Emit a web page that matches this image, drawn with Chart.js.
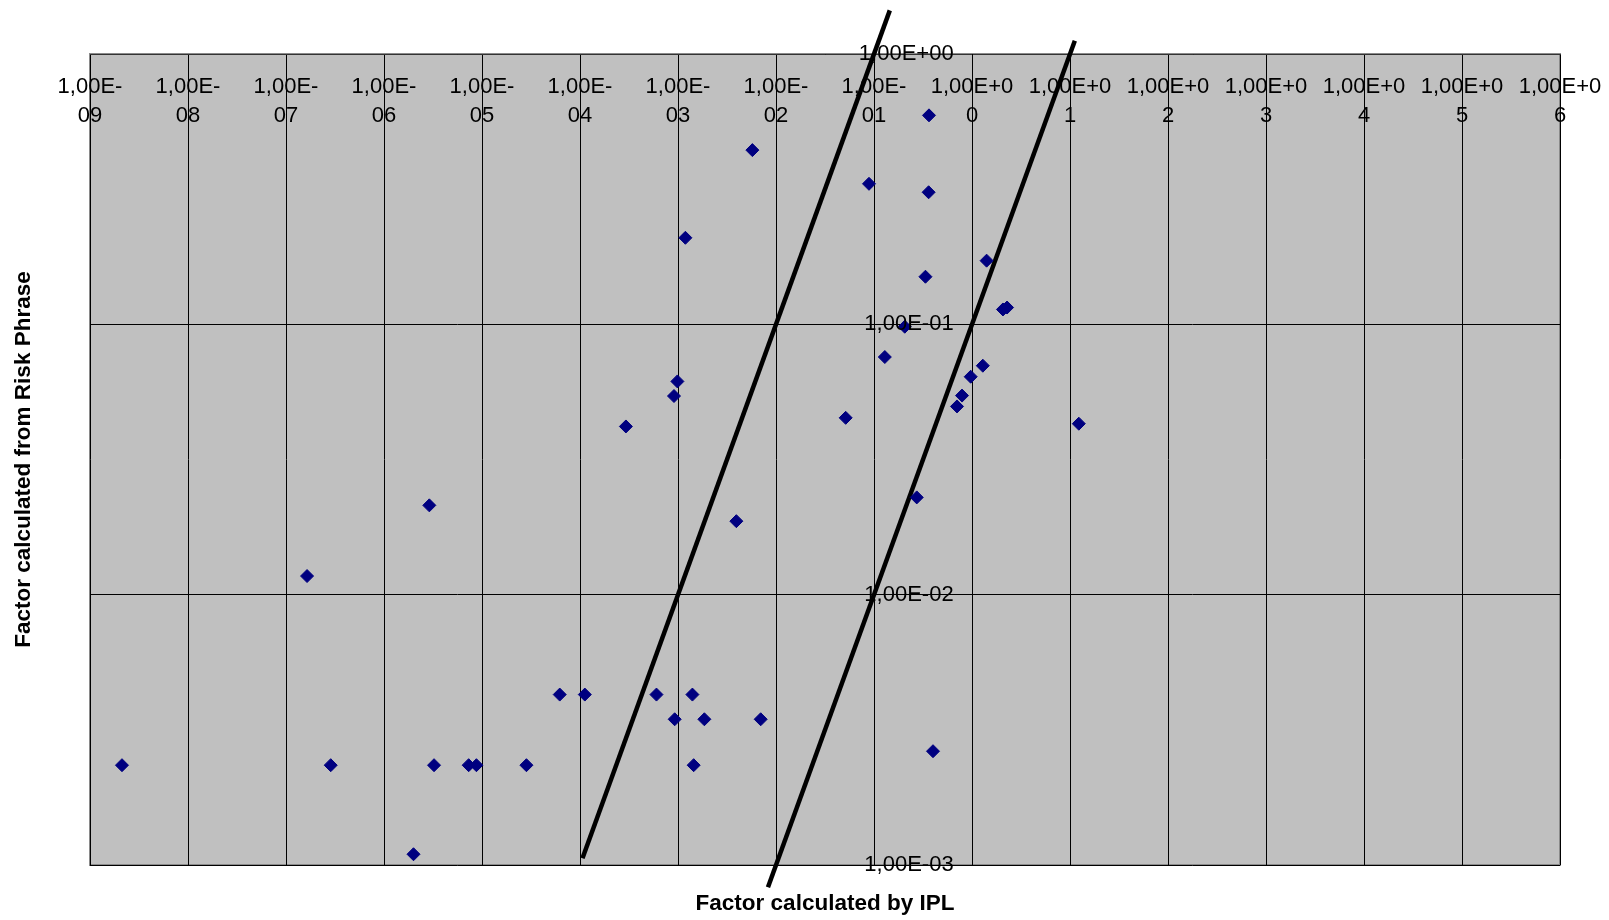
<!DOCTYPE html>
<html>
<head>
<meta charset="utf-8">
<title>IPL vs Risk Phrase</title>
<script src="https://cdn.jsdelivr.net/npm/chart.js@4.4.1/dist/chart.umd.min.js"></script>
<style>
  html, body { margin: 0; padding: 0; background: #fff; }
  #wrap { width: 1609px; height: 920px; position: relative; }
</style>
</head>
<body>
<div id="wrap"><canvas id="chart"></canvas></div>
<script>
// factor calculated by IPL (x) and from the risk phrase (y), one pair per substance
const ipl = [
  0.364, 0.00574, 0.0889, 0.361, 0.00119, 1.41, 0.335, 2.07, 2.28, 0.206,
  0.129, 1.29, 0.97, 0.000986, 0.791, 0.00091, 0.703, 0.0514, 12.3, 0.000294,
  0.273, 0.00394, 2.9e-6, 1.64e-7, 6.21e-5, 1.12e-4, 6.03e-4, 0.001403, 9.25e-4, 0.001858,
  0.00698, 2.12e-9, 2.86e-7, 3.24e-6, 7.31e-6, 8.77e-6, 2.84e-5, 0.001445, 0.4, 2.0e-6
];
const riskPhrase = [
  0.593, 0.441, 0.331, 0.308, 0.209, 0.172, 0.150, 0.1135, 0.1154, 0.098,
  0.0757, 0.0703, 0.064, 0.0615, 0.0545, 0.0543, 0.0497, 0.0451, 0.0429, 0.0419,
  0.0229, 0.0187, 0.0214, 0.01172, 0.00427, 0.00427, 0.00427, 0.00427, 0.00346, 0.00346,
  0.00346, 0.00234, 0.00234, 0.00234, 0.00234, 0.00234, 0.00234, 0.00234, 0.002636, 0.001096
];

// the two boundary lines: y = 10x and y = x/10
const upperLineX = [1.06e-4, 0.145];
const upperLineY = [1.06e-3, 1.45];
const lowerLineX = [0.00828, 11.2];
const lowerLineY = [0.000828, 1.12];

const xTicks = [1e-9, 1e-8, 1e-7, 1e-6, 1e-5, 1e-4, 1e-3, 1e-2, 1e-1, 1, 1e1, 1e2, 1e3, 1e4, 1e5, 1e6];
const xTickLabels = [
  ['1,00E-', '09'], ['1,00E-', '08'], ['1,00E-', '07'], ['1,00E-', '06'],
  ['1,00E-', '05'], ['1,00E-', '04'], ['1,00E-', '03'], ['1,00E-', '02'],
  ['1,00E-', '01'], ['1,00E+0', '0'], ['1,00E+0', '1'], ['1,00E+0', '2'],
  ['1,00E+0', '3'], ['1,00E+0', '4'], ['1,00E+0', '5'], ['1,00E+0', '6']
];
const yTicks = [1e-3, 1e-2, 1e-1, 1];
const yTickLabels = ['1,00E-03', '1,00E-02', '1,00E-01', '1,00E+00'];

const FONT = "'Liberation Sans', Arial, sans-serif";

const points = ipl.map((x, i) => ({ x: x, y: riskPhrase[i] }));
const toXY = (xs, ys) => xs.map((x, i) => ({ x: x, y: ys[i] }));

// grey plot area with a grey frame
const plotArea = {
  id: 'plotArea',
  beforeDraw(chart) {
    const { ctx, chartArea: a } = chart;
    ctx.save();
    ctx.fillStyle = '#c0c0c0';
    ctx.fillRect(a.left, a.top, a.right - a.left, a.bottom - a.top);
    ctx.strokeStyle = '#8a8a8a';
    ctx.lineWidth = 2;
    ctx.strokeRect(a.left, a.top, a.right - a.left, a.bottom - a.top);
    ctx.restore();
  }
};

new Chart(document.getElementById('chart'), {
  type: 'scatter',
  data: {
    datasets: [
      {
        data: points,
        pointStyle: 'rectRot',
        pointRadius: 6.5,
        pointBorderWidth: 1,
        backgroundColor: '#000080',
        borderColor: '#000080',
        order: 0
      },
      {
        data: toXY(upperLineX, upperLineY),
        showLine: true,
        pointRadius: 0,
        borderColor: '#000',
        borderWidth: 4.5,
        clip: false,
        order: 1
      },
      {
        data: toXY(lowerLineX, lowerLineY),
        showLine: true,
        pointRadius: 0,
        borderColor: '#000',
        borderWidth: 4.5,
        clip: false,
        order: 1
      }
    ]
  },
  options: {
    responsive: true,
    maintainAspectRatio: false,
    animation: false,
    layout: { padding: { left: 0, top: 54, right: 49, bottom: 0 } },
    plugins: { legend: { display: false }, tooltip: { enabled: false } },
    scales: {
      x: {
        type: 'logarithmic',
        min: 1e-9,
        max: 1e6,
        position: { y: 1 },
        afterBuildTicks: s => { s.ticks = xTicks.map(v => ({ value: v })); },
        // labels hang inside the plot, so the axis takes no room of its own
        afterFit: s => { s.height = 0; s.paddingLeft = 0; s.paddingRight = 0; },
        grid: { color: '#000', lineWidth: 1, tickLength: 8 },
        border: { color: '#333', width: 1 },
        ticks: {
          autoSkip: false,
          maxRotation: 0,
          minRotation: 0,
          padding: 10,
          color: '#000',
          font: { family: FONT, size: 22, lineHeight: 1.33 },
          callback: (v, i) => xTickLabels[i]
        }
      },
      y: {
        type: 'logarithmic',
        min: 1e-3,
        max: 1,
        position: { x: 1 },
        afterBuildTicks: s => { s.ticks = yTicks.map(v => ({ value: v })); },
        afterFit: s => { s.width = 0; },
        grid: { color: '#000', lineWidth: 1, tickLength: 6 },
        border: { color: '#000', width: 1 },
        ticks: {
          z: 1,
          color: '#000',
          font: { family: FONT, size: 22 },
          // labels of an axis placed at a value are right-aligned on the axis itself,
          // the trailing spaces keep them clear of the tick marks
          callback: (v, i) => yTickLabels[i] + '   '
        }
      },
      // axis titles sit on their own scales along the outer edges
      xTitle: {
        axis: 'x',
        type: 'linear',
        position: 'bottom',
        display: true,
        min: 0,
        max: 1,
        afterFit: s => { s.height = 55; },
        grid: { display: false, drawTicks: false },
        border: { display: false },
        ticks: { display: false },
        title: {
          display: true,
          text: 'Factor calculated by IPL',
          color: '#000',
          padding: { top: 0, bottom: 2.5 },
          font: { family: FONT, size: 22.5, weight: 'bold' }
        }
      },
      yTitle: {
        axis: 'y',
        type: 'linear',
        position: 'left',
        display: true,
        min: 0,
        max: 1,
        afterFit: s => { s.width = 90; },
        grid: { display: false, drawTicks: false },
        border: { display: false },
        ticks: { display: false },
        title: {
          display: true,
          text: 'Factor calculated from Risk Phrase',
          color: '#000',
          padding: { top: 10.5, bottom: 0 },
          font: { family: FONT, size: 22.5, weight: 'bold' }
        }
      }
    }
  },
  plugins: [plotArea]
});
</script>
</body>
</html>
